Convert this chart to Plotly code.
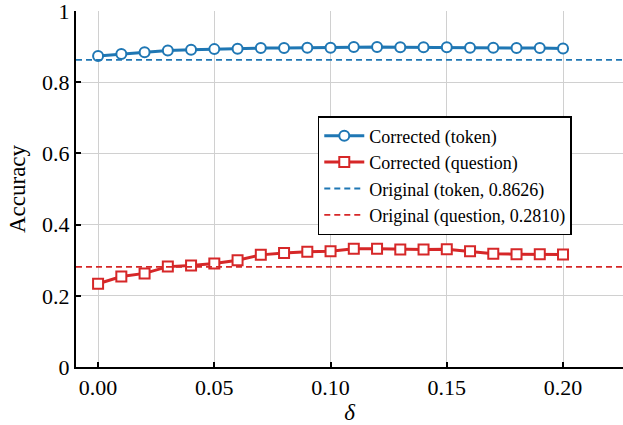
import plotly.graph_objects as go

delta = [0.00, 0.01, 0.02, 0.03, 0.04, 0.05, 0.06, 0.07, 0.08, 0.09, 0.10,
         0.11, 0.12, 0.13, 0.14, 0.15, 0.16, 0.17, 0.18, 0.19, 0.20]
acc_token = [0.874, 0.879, 0.884, 0.889, 0.891, 0.893, 0.894, 0.896, 0.896, 0.897, 0.897,
             0.899, 0.899, 0.898, 0.898, 0.898, 0.897, 0.897, 0.896, 0.896, 0.895]
acc_question = [0.234, 0.254, 0.263, 0.282, 0.285, 0.291, 0.300, 0.315, 0.320, 0.324, 0.325,
                0.332, 0.332, 0.330, 0.330, 0.331, 0.325, 0.318, 0.317, 0.317, 0.316]
orig_token = 0.8626
orig_question = 0.2810
xticks = [0.00, 0.05, 0.10, 0.15, 0.20]
xtick_text = ["0.00", "0.05", "0.10", "0.15", "0.20"]
yticks = [0, 0.2, 0.4, 0.6, 0.8, 1]
ytick_text = ["0", "0.2", "0.4", "0.6", "0.8", "1"]

BLUE = "#1f77b4"
RED = "#d62728"
xr = [-0.0095, 0.2258]

fig = go.Figure()
fig.add_trace(go.Scatter(x=delta, y=acc_token, mode="lines+markers", name="Corrected (token)",
                         line=dict(color=BLUE, width=3),
                         marker=dict(symbol="circle", size=10, color="white",
                                     line=dict(color=BLUE, width=2))))
fig.add_trace(go.Scatter(x=delta, y=acc_question, mode="lines+markers", name="Corrected (question)",
                         line=dict(color=RED, width=3),
                         marker=dict(symbol="square", size=10, color="white",
                                     line=dict(color=RED, width=2))))
fig.add_trace(go.Scatter(x=xr, y=[orig_token, orig_token], mode="lines",
                         name="Original (token, %.4f)" % orig_token,
                         line=dict(color=BLUE, width=1.8, dash="6px,4px")))
fig.add_trace(go.Scatter(x=xr, y=[orig_question, orig_question], mode="lines",
                         name="Original (question, %.4f)" % orig_question,
                         line=dict(color=RED, width=1.8, dash="6px,4px")))

font = "'Liberation Serif', 'DejaVu Serif', serif"
fig.update_layout(
    width=623, height=425,
    margin=dict(l=76, r=0, t=11, b=58, autoexpand=False),
    plot_bgcolor="white", paper_bgcolor="white",
    font=dict(family=font, size=22, color="black"),
    showlegend=True,
    legend=dict(x=0.442, y=0.705, xanchor="left", yanchor="top",
                bgcolor="white", bordercolor="black", borderwidth=1.5,
                font=dict(family=font, size=18), tracegroupgap=0,
                itemwidth=40),
    xaxis=dict(range=xr, tickvals=xticks, ticktext=xtick_text,
               showgrid=True, gridcolor="#d0d0d0", gridwidth=1,
               ticks="inside", ticklen=5, tickwidth=1.5, tickcolor="black",
               showline=True, linecolor="black", linewidth=2,
               zeroline=False, tickfont=dict(family=font, size=22), automargin=False,
               title=dict(text="<i>δ</i>", font=dict(family=font, size=23), standoff=2)),
    yaxis=dict(range=[0, 1.0001], tickvals=yticks, ticktext=ytick_text,
               showgrid=True, gridcolor="#d0d0d0", gridwidth=1,
               ticks="inside", ticklen=5, tickwidth=1.5, tickcolor="black",
               showline=True, linecolor="black", linewidth=2,
               zeroline=False, tickfont=dict(family=font, size=22), automargin=False,
               ticklabeloverflow="allow",
               title=dict(text="Accuracy", font=dict(family=font, size=23), standoff=10)),
)
fig.write_html("out.html")
